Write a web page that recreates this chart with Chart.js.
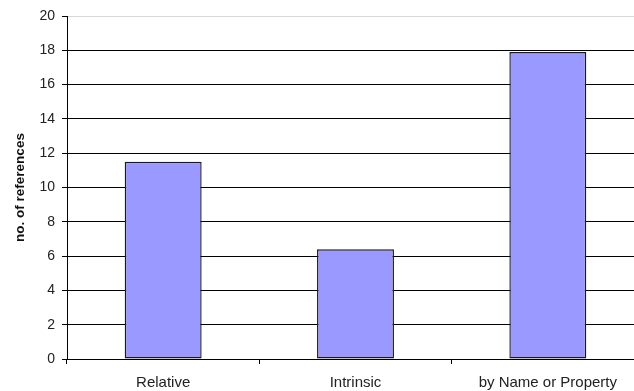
<!DOCTYPE html>
<html>
<head>
<meta charset="utf-8">
<script src="https://cdn.jsdelivr.net/npm/chart.js@4/dist/chart.umd.min.js"></script>
<style>
  html, body { margin: 0; padding: 0; background: #fff; overflow: hidden; }
  #wrap { width: 644px; height: 391px; }
</style>
</head>
<body>
<div id="wrap"><canvas id="c" width="644" height="391"></canvas></div>
<script>
const categories = ["Relative", "Intrinsic", "by Name or Property"];
const references = [11.5, 6.4, 17.9];
const yTicks = [0, 2, 4, 6, 8, 10, 12, 14, 16, 18, 20];

const font = "'Liberation Sans', Arial, sans-serif";

new Chart(document.getElementById('c'), {
  type: 'bar',
  data: {
    labels: categories,
    datasets: [{
      data: references,
      backgroundColor: '#9999FF',
      borderColor: '#1a1a1a',
      borderWidth: 1.4,
      borderSkipped: false,
      barPercentage: 0.4,
      categoryPercentage: 1.0
    }]
  },
  options: {
    responsive: false,
    animation: false,
    layout: { padding: { top: 16, left: 0, right: 0, bottom: 0 } },
    plugins: { legend: { display: false }, tooltip: { enabled: false } },
    scales: {
      x: {
        offset: true,
        grid: {
          offset: true,
          drawOnChartArea: false,
          drawTicks: true,
          tickLength: 5,
          color: '#000'
        },
        border: { color: '#000', width: 1 },
        ticks: {
          color: '#222',
          font: { family: font, size: 15 },
          padding: 10,
          maxRotation: 0
        },
        afterFit: s => { s.height = 32; }
      },
      y: {
        min: 0,
        max: 20,
        afterBuildTicks: s => { s.ticks = yTicks.map(v => ({ value: v })); },
        grid: {
          color: ctx => (ctx.tick && ctx.tick.value === 20) ? '#d8d8d8' : '#000',
          lineWidth: 1,
          tickLength: 5,
          tickColor: '#000'
        },
        border: { color: '#000', width: 1 },
        ticks: {
          color: '#222',
          font: { family: font, size: 14 },
          padding: 7
        },
        title: {
          display: true,
          text: 'no. of references',
          color: '#111',
          font: { family: font, size: 13.5, weight: 'bold' },
          padding: { top: 12, bottom: 6 }
        },
        afterFit: s => { s.width = 67; }
      }
    }
  }
});
</script>
</body>
</html>
